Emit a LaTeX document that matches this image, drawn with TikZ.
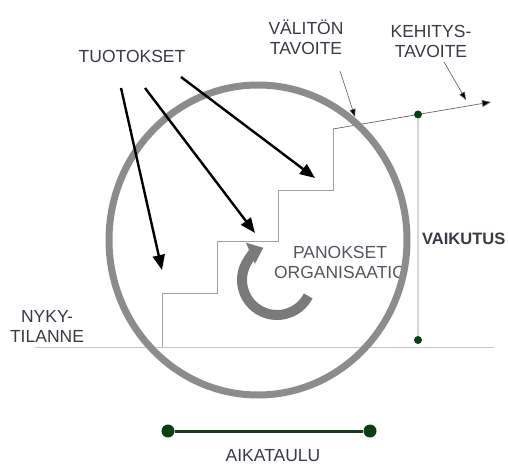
\documentclass[tikz,border=0pt]{standalone}
\usepackage{fontspec}
\setmainfont{Liberation Sans}
\usetikzlibrary{arrows.meta,calc}
\definecolor{txt}{HTML}{3A3A46}
\definecolor{ringgray}{HTML}{8C8C8C}
\definecolor{cyclegray}{HTML}{7A7A7A}
\definecolor{stairgray}{HTML}{A0A0A0}
\definecolor{basegray}{HTML}{C4C4C4}
\definecolor{dkgreen}{HTML}{0D3D12}
\definecolor{tlgreen}{HTML}{1B3A1B}
\definecolor{pantxt}{HTML}{555560}
\begin{document}
\begin{tikzpicture}[x=1pt,y=-1pt,
  lbl/.style={font=\fontsize{17.5}{20}\selectfont, text=txt, inner sep=0pt, align=center},
  ring/.style={draw=ringgray, line width=7pt},
  cycle/.style={draw=cyclegray, line width=10pt, -{Triangle[length=14pt,width=22pt]}},
  stairs/.style={draw=stairgray, line width=0.8pt},
  baseln/.style={draw=basegray, line width=0.9pt},
  bigarrow/.style={draw=black, line width=2.4pt, -{Triangle[length=15pt,width=12pt]}},
  smallarrow/.style={draw=black!65, line width=0.6pt, -{Triangle[length=8pt,width=6pt,fill=black]}},
  risearrow/.style={draw=black!60, line width=0.7pt, -{Triangle[length=9pt,width=7pt,fill=black]}},
  vline/.style={draw=black!45, line width=0.9pt},
  gdot/.style={circle, fill=dkgreen, inner sep=0pt, minimum size=8pt},
  tdot/.style={circle, fill=dkgreen, inner sep=0pt, minimum size=13pt},
  tline/.style={draw=tlgreen, line width=3pt}]
\useasboundingbox (0,0) rectangle (508,465);
\fill[white] (0,0) rectangle (508,465);

% baseline (current state)
\coordinate (b1) at (35,347);
\coordinate (b2) at (494,347);
\draw[baseln] (b1) -- (b2);

% stairs
\coordinate (s0) at (162,347);
\coordinate (s1) at (162,293);
\coordinate (s2) at (217,293);
\coordinate (s3) at (217,241);
\coordinate (s4) at (278,241);
\coordinate (s5) at (278,190);
\coordinate (s6) at (333,190);
\coordinate (s7) at (333,129);
\draw[stairs] (s0) -- (s1) -- (s2) -- (s3) -- (s4) -- (s5) -- (s6) -- (s7);

% rising goal line
\coordinate (goal) at (491,102);
\draw[risearrow] (s7) -- (goal);

% inputs text
\node[lbl, text=pantxt, anchor=base] (panokset) at (340,278) {PANOKSET\\ORGANISAATIO};

% big circle
\coordinate (cc) at (258,240);
\draw[ring] (cc) ellipse [x radius=149, y radius=155];

% cycle arrow
\coordinate (cyc) at (277,280);
\draw[cycle] ($(cyc)+(27:35)$) arc[start angle=27, end angle=247, radius=35];

% outputs arrows
\coordinate (t1s) at (121,88);
\coordinate (t1e) at (162,270);
\coordinate (t2s) at (145,88);
\coordinate (t2e) at (255,233);
\coordinate (t3s) at (181,77);
\coordinate (t3e) at (315,178);
\draw[bigarrow] (t1s) -- (t1e);
\draw[bigarrow] (t2s) -- (t2e);
\draw[bigarrow] (t3s) -- (t3e);

% small pointer arrows
\coordinate (v1) at (340,71);
\coordinate (v2) at (355,117);
\coordinate (k1) at (444,62);
\coordinate (k2) at (466,100);
\draw[smallarrow] (v1) -- (v2);
\draw[smallarrow] (k1) -- (k2);

% impact line
\node[gdot] (d1) at ($(s7)!0.538!(goal)$) {};
\node[gdot] (d2) at (418,340) {};
\draw[vline] (d1) -- (d2);

% timeline
\node[tdot] (tl1) at (168,431) {};
\node[tdot] (tl2) at (370,431) {};
\draw[tline] (tl1) -- (tl2);

% labels
\node[lbl, anchor=base] (tuot) at (132,63) {TUOTOKSET};
\node[lbl, anchor=base] (valiton) at (306,55) {VÄLITÖN\\TAVOITE};
\node[lbl, anchor=base] (kehitys) at (431,58) {KEHITYS-\\TAVOITE};
\node[lbl, anchor=base] (nyky) at (47,342) {NYKY-\\TILANNE};
\node[lbl, anchor=base west, font=\fontsize{16.5}{20}\selectfont\bfseries] (vaikutus) at (422,244) {VAIKUTUS};
\node[lbl, anchor=base] (aika) at (273,461) {AIKATAULU};
\end{tikzpicture}
\end{document}
